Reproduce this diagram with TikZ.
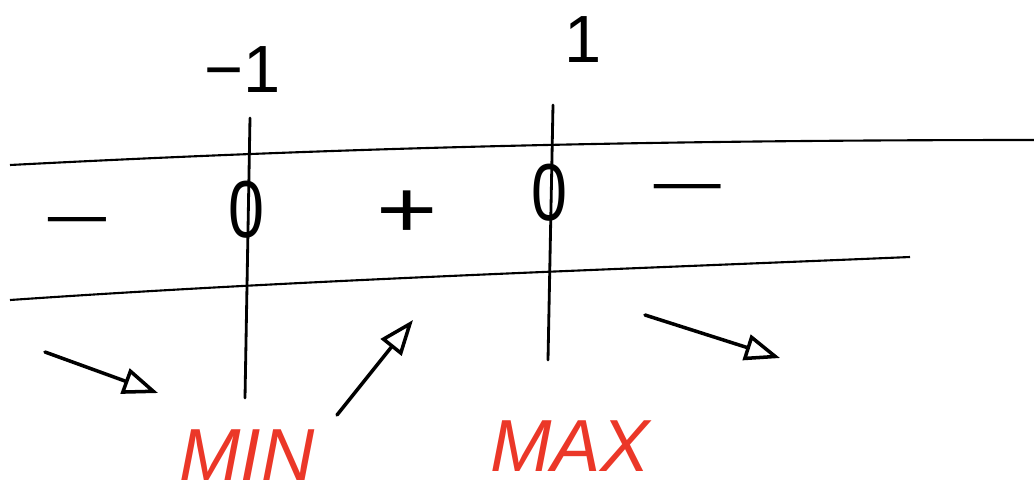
\documentclass[tikz,border=0pt]{standalone}
\usepackage{fontspec}
\setmainfont{Liberation Sans}
\usetikzlibrary{arrows.meta}
\definecolor{markred}{RGB}{235,55,40}
\tikzset{
  pen/.style={line width=1.6pt,line cap=round},
  trend/.style={pen,line width=2pt,-{Triangle[open,length=20pt,width=15pt,line width=2pt]}},
  extremum/.style={text=markred,font=\fontsize{42}{42}\selectfont\itshape}
}
\begin{document}
\begin{tikzpicture}[x=0.02cm,y=-0.02cm]
    \useasboundingbox (0,0) rectangle (1034,498);
    % sign band
    \draw[line width=1.2pt] (10,165) .. controls (300,150) and (600,140) .. (1034,140);
    \draw[line width=1.2pt] (10,300) .. controls (300,280) and (600,270) .. (910,257);
    % critical points
    \draw[pen] (250,118)--(245,398);
    \draw[pen] (553,105)--(548,360);
    \node[font=\fontsize{38}{38}\selectfont] (xm) at (243,70) {−1};
    \node[font=\fontsize{38}{38}\selectfont] (xp) at (583,40) {1};
    \foreach \x/\y/\n in {246/210/zm,549/193/zp}
        \node[font=\fontsize{46}{46}\selectfont,xscale=0.8] (\n) at (\x,\y) {0};
    \foreach \x/\y/\s/\k/\f/\n in {77/228/−/2.0/34/sa,407/214/+/1.3/46/sb,688/195/−/2.3/34/sc}
        \node[font=\fontsize{\f}{\f}\selectfont,xscale=\k] (\n) at (\x,\y) {\s};
    % monotonicity
    \coordinate (a1) at (45,352); \coordinate (b1) at (158,393);
    \coordinate (a2) at (337,415); \coordinate (b2) at (413,320);
    \coordinate (a3) at (645,315); \coordinate (b3) at (780,358);
    \foreach \i in {1,2,3}
        \draw[trend] (a\i)--(b\i);
    \node[extremum] (min) at (247,455) {MIN};
    \node[extremum] (max) at (570,446) {MAX};
\end{tikzpicture}
\end{document}
